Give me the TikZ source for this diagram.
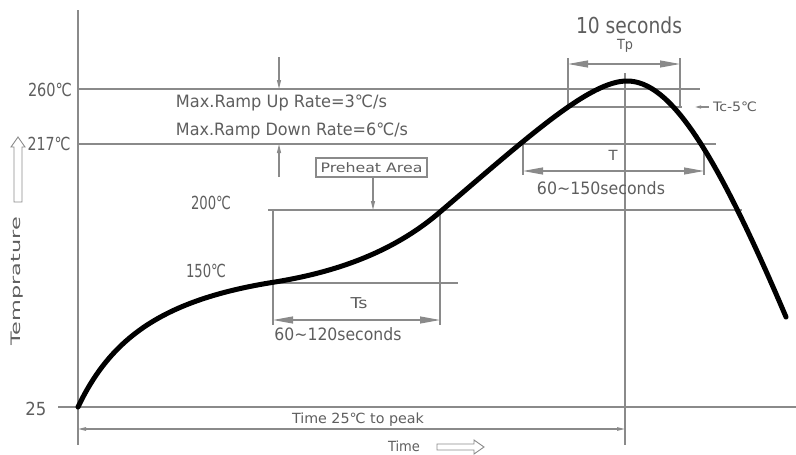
\documentclass[tikz,border=0pt]{standalone}
\usepackage{fontspec}
\usepackage{graphicx}
\setmainfont{DejaVu Sans}
\usetikzlibrary{arrows.meta}
\newcommand\fw[2]{\resizebox{#1pt}{\height}{#2}}
\newcommand\fsz[1]{\fontsize{#1pt}{#1pt}\selectfont}
\definecolor{txtc}{HTML}{5E5E5E}
\definecolor{linec}{HTML}{8A8A8A}
\tikzset{
  gl/.style={draw=linec, line width=1.1pt},
  lab/.style={text=txtc, inner sep=0pt, anchor=center},
  dimarrow/.style={gl, {Triangle[length=20pt,width=7pt]}-{Triangle[length=20pt,width=7pt]}},
  smallarrow/.style={gl, -{Triangle[length=9pt,width=4pt]}},
  tinyarrows/.style={gl, {Triangle[length=8pt,width=3.5pt]}-{Triangle[length=8pt,width=3.5pt]}},
  profile/.style={draw=black, line width=5pt, line cap=round, line join=round},
}
\begin{document}
\begin{tikzpicture}[x=1pt,y=-1pt]
\useasboundingbox (0,0) rectangle (796,455);
% axis and reference lines
\coordinate (ytop) at (78,10);
\coordinate (ybot) at (78,445);
\draw[gl] (ytop) -- (ybot);
\coordinate (l260a) at (78,89);   \coordinate (l260b) at (700,89);
\coordinate (l217a) at (78,144);  \coordinate (l217b) at (716,144);
\coordinate (l200a) at (268,210); \coordinate (l200b) at (742,210);
\coordinate (l150a) at (273,283); \coordinate (l150b) at (458,283);
\coordinate (l25a) at (58,407);   \coordinate (l25b) at (796,407);
\coordinate (ltca) at (568,107);  \coordinate (ltcb) at (682,107);
\draw[gl] (l260a) -- (l260b);
\draw[gl] (l217a) -- (l217b);
\draw[gl] (l200a) -- (l200b);
\draw[gl] (l150a) -- (l150b);
\draw[gl] (l25a) -- (l25b);
\draw[gl] (ltca) -- (ltcb);
% peak vertical
\coordinate (pk1) at (625,73); \coordinate (pk2) at (625,445);
\draw[gl] (pk1) -- (pk2);
% Tp
\coordinate (tpl1) at (568,58); \coordinate (tpl2) at (568,107);
\coordinate (tpr1) at (680,58); \coordinate (tpr2) at (680,107);
\draw[gl] (tpl1) -- (tpl2);
\draw[gl] (tpr1) -- (tpr2);
\coordinate (tpa) at (568,64); \coordinate (tpb) at (680,64);
\draw[dimarrow] (tpa) -- (tpb);
% T
\coordinate (tl1) at (523,144); \coordinate (tl2) at (523,175);
\coordinate (tr1) at (704,144); \coordinate (tr2) at (704,175);
\draw[gl] (tl1) -- (tl2);
\draw[gl] (tr1) -- (tr2);
\coordinate (ta) at (523,171); \coordinate (tb) at (704,171);
\draw[dimarrow] (ta) -- (tb);
% Ts
\coordinate (sl1) at (273,210); \coordinate (sl2) at (273,325);
\coordinate (sr1) at (440,210); \coordinate (sr2) at (440,325);
\draw[gl] (sl1) -- (sl2);
\draw[gl] (sr1) -- (sr2);
\coordinate (sa) at (273,320); \coordinate (sb) at (440,320);
\draw[dimarrow] (sa) -- (sb);
% time to peak
\coordinate (ttpa) at (78,429); \coordinate (ttpb) at (625,429);
\draw[tinyarrows] (ttpa) -- (ttpb);
% ramp arrows
\coordinate (ru1) at (279,57); \coordinate (ru2) at (279,89);
\draw[smallarrow] (ru1) -- (ru2);
\coordinate (rd1) at (279,177); \coordinate (rd2) at (279,144);
\draw[smallarrow] (rd1) -- (rd2);
% Tc-5 arrow
\coordinate (tc1) at (709,107); \coordinate (tc2) at (695,107);
\draw[gl, -{Triangle[length=6pt,width=3pt]}] (tc1) -- (tc2);
% preheat box
\node[draw=linec, line width=1.1pt, text=txtc, minimum width=111pt, minimum height=19pt, inner sep=0pt] (ph) at (371.5,167.5) {\fsz{13}\fw{102}{Preheat Area}};
\coordinate (phe) at (373,210);
\draw[smallarrow] (ph.south -| phe) -- (phe);
% hollow arrows
\draw[gl, line width=0.9pt] (437,444) -- (474,444) -- (474,440) -- (484,447) -- (474,454) -- (474,450) -- (437,450) -- cycle;
\draw[gl, line width=0.9pt] (14,202) -- (14,147) -- (11,147) -- (18,137) -- (25,147) -- (22,147) -- (22,202) -- cycle;
% profile curve
\coordinate (c0) at (78,407);
\coordinate (c1) at (275,282);
\coordinate (c2) at (440,212);
\coordinate (c3) at (627,81);
\coordinate (c4) at (786,317);
\draw[profile] (c0) .. controls (110,340) and (160,300) .. (c1)
  .. controls (330,273) and (390,255) .. (c2)
  .. controls (530,135) and (590,81) .. (c3)
  .. controls (670,81) and (715,150) .. (c4);
% labels
\node[lab, font=\fsz{18}] (t260) at (50,90) {\fw{44}{260℃}};
\node[lab, font=\fsz{18}] (t217) at (49,144) {\fw{43}{217℃}};
\node[lab, font=\fsz{18}] (t200) at (211,203) {\fw{40}{200℃}};
\node[lab, font=\fsz{18}] (t150) at (206,271) {\fw{40}{150℃}};
\node[lab, font=\fsz{18}] (t25) at (36,409) {\fw{21}{25}};
\node[lab, font=\fsz{17}] (mru) at (281.5,103) {\fw{211}{Max.Ramp Up Rate=3℃/s}};
\node[lab, font=\fsz{17}] (mrd) at (292,131) {\fw{232}{Max.Ramp Down Rate=6℃/s}};
\node[lab, font=\fsz{22}] (tens) at (629,25) {\fw{106}{10 seconds}};
\node[lab, font=\fsz{14}] (ttp) at (625,46) {\fw{16}{Tp}};
\node[lab, font=\fsz{13}] (ttc) at (735,107) {\fw{44}{Tc-5℃}};
\node[lab, font=\fsz{14}] (tt) at (613,155) {\fw{9}{T}};
\node[lab, font=\fsz{17}] (t60a) at (601,188) {\fw{128}{60{\char"7E}150seconds}};
\node[lab, font=\fsz{15}] (tts) at (359,303) {\fw{17}{Ts}};
\node[lab, font=\fsz{17}] (t60b) at (338,334) {\fw{127}{60{\char"7E}120seconds}};
\node[lab, font=\fsz{14}] (ttpk) at (358,420) {\fw{132}{Time 25℃ to peak}};
\node[lab, font=\fsz{14}] (ttime) at (404,446) {\fw{32}{Time}};
\node[lab, font=\fsz{13}, rotate=90] (ttemp) at (17,281) {\fw{128}{Temprature}};
\end{tikzpicture}
\end{document}
